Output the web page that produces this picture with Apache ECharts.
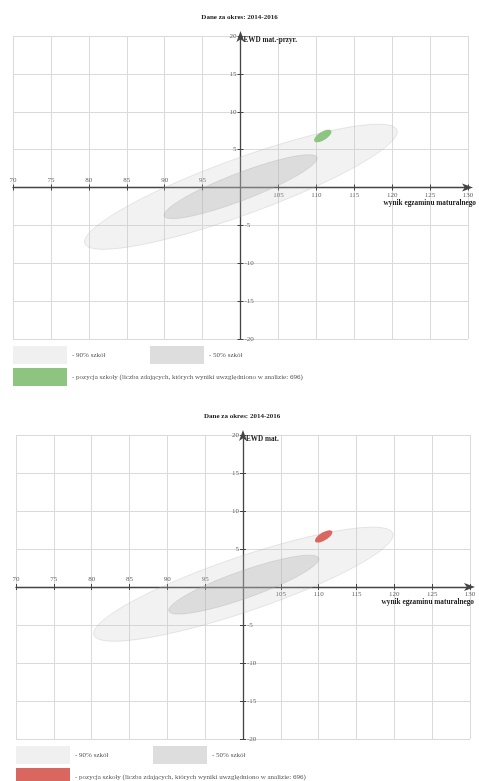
<!DOCTYPE html>
<html><head><meta charset="utf-8">
<script src="https://cdn.jsdelivr.net/npm/echarts@6/dist/echarts.min.js"></script>
<style>html,body{margin:0;padding:0;background:#fff}#c{width:479px;height:781px}</style>
</head><body><div id="c"></div>
<script>
// ---- data ----
const periodTitle = 'Dane za okres: 2014-2016';
const yNames = ['EWD mat.-przyr.', 'EWD mat.'];
const xName = 'wynik egzaminu maturalnego';
const xRange = [70, 130];
const yRange = [-20, 20];
const tickStep = 5;
const legendNames = ['90% szkół', '50% szkół', 'pozycja szkoły (liczba zdających, których wyniki uwzględniono w analizie: 696)'];
// ellipse parameters: [centerX, centerY, semiMajor, semiMinor, angleDeg]
const ellipse90_A = [100.05, 0.1, 21.9, 3.7, 20.0];
const ellipse50_A = [100.02, 0.11, 10.8, 1.8, 21.0];
const school_A    = [110.85, 6.8, 1.3, 0.55, 32];
const ellipse90_B = [100.05, 0.37, 20.85, 3.6, 18.7];
const ellipse50_B = [100.1, 0.31, 10.5, 1.8, 19.4];
const school_B    = [110.66, 6.65, 1.3, 0.52, 31];

const schoolColors = ['#8dc47f', '#d9665f'];
const grids = [
  {left: 13, top: 36, width: 455, height: 303},
  {left: 16, top: 435, width: 454, height: 304}
];

const FONT = 'Liberation Serif';
const axisCol = '#444';
const gridCol = '#dadada';
const lblStyle = {fontFamily: FONT, fontSize: 7, color: '#666'};

function ellipseRenderer(fill, stroke) {
  return function (params, api) {
    const cx = api.value(0), cy = api.value(1), a = api.value(2), b = api.value(3);
    const ang = api.value(4) * Math.PI / 180;
    const pts = [];
    const n = 120;
    for (let i = 0; i < n; i++) {
      const t = i / n * 2 * Math.PI;
      const u = a * Math.cos(t), v = b * Math.sin(t);
      pts.push(api.coord([cx + u * Math.cos(ang) - v * Math.sin(ang),
                          cy + u * Math.sin(ang) + v * Math.cos(ang)]));
    }
    return {type: 'polygon', shape: {points: pts},
      style: {fill: fill, stroke: stroke || null, lineWidth: stroke ? 0.8 : 0}};
  };
}

const xAxes = [], yAxes = [], series = [], titles = [], legends = [];
grids.forEach((g, gi) => {
  const xo = -g.height / 2, yo = -g.width / 2;
  const common = {gridIndex: gi, type: 'value', interval: tickStep};
  const arrowLine = {show: true, onZero: false, symbol: ['none', 'arrow'], symbolSize: [6, 11], symbolOffset: [0, 5],
      lineStyle: {color: axisCol, width: 1.3}};
  xAxes.push(Object.assign({}, common, {
    min: xRange[0], max: xRange[1], position: 'bottom', offset: xo,
    axisLine: arrowLine,
    axisTick: {show: true, length: 3, lineStyle: {color: axisCol}},
    axisLabel: Object.assign({margin: 4, showMinLabel: true, showMaxLabel: true,
      formatter: v => (v > 100 ? String(v) : '')}, lblStyle),
    splitLine: {show: true, lineStyle: {color: gridCol, width: 1}}
  }));
  xAxes.push(Object.assign({}, common, {
    min: xRange[0], max: xRange[1], position: 'top', offset: xo,
    axisLine: {show: false, onZero: false},
    axisTick: {show: true, length: 3, lineStyle: {color: axisCol}},
    axisLabel: Object.assign({margin: 4, showMinLabel: true, showMaxLabel: true,
      formatter: v => (v < 100 ? String(v) : '')}, lblStyle),
    splitLine: {show: false}
  }));
  yAxes.push(Object.assign({}, common, {
    min: yRange[0], max: yRange[1], position: 'left', offset: yo,
    axisLine: arrowLine,
    axisTick: {show: true, length: 3, lineStyle: {color: axisCol}},
    axisLabel: Object.assign({margin: 4, showMinLabel: true, showMaxLabel: true,
      formatter: v => (v > 0 ? String(v) : '')}, lblStyle),
    splitLine: {show: true, lineStyle: {color: gridCol, width: 1}}
  }));
  yAxes.push(Object.assign({}, common, {
    min: yRange[0], max: yRange[1], position: 'right', offset: yo,
    axisLine: {show: false, onZero: false},
    axisTick: {show: true, length: 3, lineStyle: {color: axisCol}},
    axisLabel: Object.assign({margin: 4, showMinLabel: true, showMaxLabel: true,
      formatter: v => (v < 0 ? String(v) : '')}, lblStyle),
    splitLine: {show: false}
  }));
  const sets = gi === 0 ? [ellipse90_A, ellipse50_A, school_A] : [ellipse90_B, ellipse50_B, school_B];
  const fills = ['rgba(195,195,195,0.22)', 'rgba(175,175,175,0.32)', schoolColors[gi]];
  const strokes = ['rgba(170,170,170,0.35)', 'rgba(160,160,160,0.35)', null];
  const legendCols = ['#f0f0f0', '#dddddd', schoolColors[gi]];
  sets.forEach((d, k) => {
    series.push({
      type: 'custom', name: legendNames[k], xAxisIndex: gi * 2, yAxisIndex: gi * 2,
      renderItem: ellipseRenderer(fills[k], strokes[k]),
      itemStyle: {color: legendCols[k]},
      encode: {x: 0, y: 1}, data: [d], silent: true, z: 2 + k
    });
  });
  // titles / axis names
  titles.push({text: periodTitle, left: gi === 0 ? 'center' : 204, top: g.top - 22, padding: 0,
    textStyle: {fontFamily: FONT, fontSize: 7, fontWeight: 'bold', color: '#222'}});
  titles.push({text: yNames[gi], left: g.left + g.width / 2 + 3, top: g.top + 1, padding: 0,
    textStyle: {fontFamily: FONT, fontSize: 7.2, fontWeight: 'bold', color: '#222'}});
  titles.push({text: xName, right: gi === 0 ? 3 : 5, top: g.top + g.height / 2 + 12, padding: 0,
    textStyle: {fontFamily: FONT, fontSize: 7.3, fontWeight: 'bold', color: '#222'}});
  // legends
  const lTop = g.top + g.height + 7;
  const mk = (left, top, k) => ({
    left: left, top: top, orient: 'horizontal', itemWidth: 54, itemHeight: 18, icon: 'rect',
    padding: 0, itemGap: 0, selectedMode: false,
    data: [{name: legendNames[k], itemStyle: {color: legendCols[k], borderWidth: 0}}],
    formatter: n => '- ' + n,
    textStyle: {fontFamily: FONT, fontSize: 7, color: '#555'}
  });
  legends.push(mk(g.left, lTop, 0));
  legends.push(mk(g.left + 137, lTop, 1));
  legends.push(mk(g.left, lTop + 22, 2));
});

const chart = echarts.init(document.getElementById('c'), null, {renderer: 'canvas'});
chart.setOption({
  animation: false,
  backgroundColor: '#fff',
  title: titles,
  legend: legends,
  grid: grids.map(g => Object.assign({containLabel: false, outerBoundsMode: 'none'}, g)),
  xAxis: xAxes,
  yAxis: yAxes,
  series: series
});
</script>
</body></html>
